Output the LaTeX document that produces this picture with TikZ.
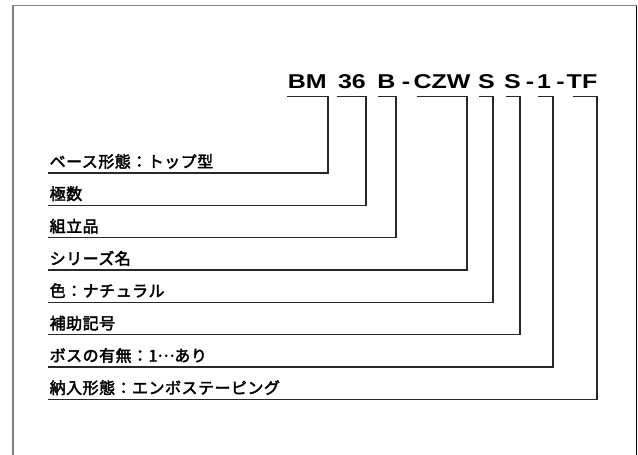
\documentclass[tikz,border=0pt]{standalone}
\usepackage{fontspec}
\newfontfamily\jpfont{Noto Sans CJK JP}[FakeBold=2.5,LetterSpace=3]
\newfontfamily\codefont{Liberation Sans}[FakeStretch=1.25]
\newcommand\midellip{\raisebox{0.3em}{…}}
\begin{document}
\begin{tikzpicture}[x=1pt,y=-1pt,
  codetext/.style={anchor=base,inner sep=0pt,font=\codefont\bfseries\fontsize{20}{20}\selectfont},
  labeltext/.style={anchor=base west,inner sep=0pt,font=\jpfont\fontsize{16}{17}\selectfont},
  leader/.style={draw={rgb,255:red,40;green,40;blue,40},line width=1.1pt},
  frameside/.style={draw={rgb,255:red,128;green,128;blue,128},line width=1.8pt}]
\path[use as bounding box,clip] (0,0) rectangle (638,455);
% frame (open at the bottom of the view)
\coordinate (fbl) at (13,470);
\coordinate (ftl) at (13,5.5);
\coordinate (ftr) at (636.5,5.5);
\coordinate (fbr) at (636.5,470);
\draw[frameside] (fbl) -- (ftl) -- (ftr);
\draw[black,line width=1.2pt] (ftr) -- (fbr);
% code
\node[codetext] (c1) at (307.2,88.3) {BM};
\node[codetext] (c2) at (352,88.3) {36};
\node[codetext] (c3) at (386.5,88.3) {B};
\node[codetext] (c4) at (406,88.3) {-};
\node[codetext] (c5) at (442,88.3) {CZW};
\node[codetext] (c6) at (486.5,88.3) {S};
\node[codetext] (c7) at (512.5,88.3) {S};
\node[codetext] (c8) at (530,88.3) {-};
\node[codetext] (c9) at (544,88.3) {1};
\node[codetext] (c10) at (560.5,88.3) {-};
\node[codetext] (c11) at (582,88.3) {TF};
% labels and leaders
\foreach \i/\sx/\vx/\ly/\txt in {
  1/287/328/173/{ベース形態：トップ型},
  2/337/366/205.3/{極数},
  3/378/396/237.7/{組立品},
  4/417/467/270/{シリーズ名},
  5/479/493/302.3/{色：ナチュラル},
  6/506/520/334.7/{補助記号},
  7/538/553/367/{ボスの有無：1\midellip あり},
  8/573/597/399.3/{納入形態：エンボステーピング}}{
  \node[labeltext] (l\i) at (49.5,\ly-5.5) {\txt};
  \coordinate (a\i) at (\sx,96.7);
  \coordinate (b\i) at (\vx,96.7);
  \coordinate (k\i) at (\vx,\ly);
  \coordinate (d\i) at (48,\ly);
  \draw[leader] (a\i) -- (b\i) -- (k\i) -- (d\i);
}
\end{tikzpicture}
\end{document}
